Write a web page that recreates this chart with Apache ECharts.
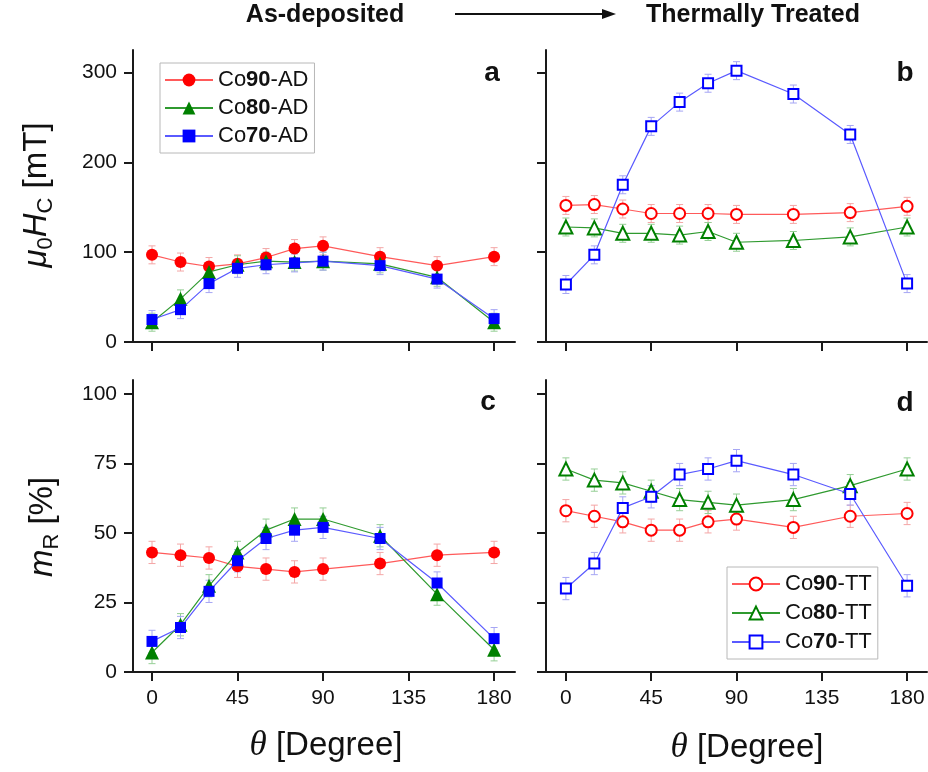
<!DOCTYPE html>
<html>
<head>
<meta charset="utf-8">
<script src="https://cdn.jsdelivr.net/npm/echarts@6/dist/echarts.min.js"></script>
<style>html,body{margin:0;padding:0;background:#fff}#c{width:928px;height:772px}</style>
</head>
<body>
<div id="c"></div>
<script>
// ---- data ----
const angles = [0, 15, 30, 45, 60, 75, 90, 120, 150, 180];
const xTicks = [0, 45, 90, 135, 180];
const hcTicks = [0, 100, 200, 300];
const mrTicks = [0, 25, 50, 75, 100];

const hcCo90AD = [97, 89, 84, 87, 94, 104, 107, 95, 85, 95];
const hcCo80AD = [22, 48, 78, 86, 90, 89, 90, 87, 72, 22];
const hcCo70AD = [25, 36, 65, 82, 86, 88, 90, 85, 70, 26];

const hcCo90TT = [152, 153, 148, 143, 143, 143, 142, 142, 144, 151];
const hcCo80TT = [128, 127, 121, 121, 119, 123, 111, 113, 117, 128];
const hcCo70TT = [64, 97, 175, 240, 267, 288, 302, 276, 231, 65];

const mrCo90AD = [43, 42, 41, 38, 37, 36, 37, 39, 42, 43];
const mrCo80AD = [7, 17, 31, 43, 51, 55, 55, 49, 28, 8];
const mrCo70AD = [11, 16, 29, 40, 48, 51, 52, 48, 32, 12];

const mrCo90TT = [58, 56, 54, 51, 51, 54, 55, 52, 56, 57];
const mrCo80TT = [73, 69, 68, 65, 62, 61, 60, 62, 67, 73];
const mrCo70TT = [30, 39, 59, 63, 71, 73, 76, 71, 64, 31];

const errHc = 10;   // error bar half-length, mT
const errMr = 4;    // error bar half-length, %

const namesAD = ['Co90-AD', 'Co80-AD', 'Co70-AD'];
const namesTT = ['Co90-TT', 'Co80-TT', 'Co70-TT'];

// ---- styles ----
const FONT = 'Liberation Sans, Arial, sans-serif';
const markerColors = ['#ff0000', '#008000', '#0000ff'];
const lineColors = ['#ff5a5a', '#2f9a2f', '#5a5aff'];
const errColors = ['#f4a6a6', '#96cf96', '#a6a6f4'];
const symbols = ['circle', 'triangle', 'rect'];
const symSolid = [12, 14, 11];
const symOpen = [11, 13, 10];

const chart = echarts.init(document.getElementById('c'), null, {renderer: 'canvas'});

function errRender(params, api) {
  const x = api.value(0), lo = api.value(1), hi = api.value(2);
  const p1 = api.coord([x, lo]), p2 = api.coord([x, hi]);
  const cw = 3.5;
  const style = {stroke: api.visual('color'), lineWidth: 1};
  return {type: 'group', children: [
    {type: 'line', shape: {x1: p1[0], y1: p1[1], x2: p2[0], y2: p2[1]}, style: style},
    {type: 'line', shape: {x1: p1[0] - cw, y1: p1[1], x2: p1[0] + cw, y2: p1[1]}, style: style},
    {type: 'line', shape: {x1: p2[0] - cw, y1: p2[1], x2: p2[0] + cw, y2: p2[1]}, style: style}
  ]};
}

const series = [];
function addPanel(idx, names, valuesList, err, open) {
  valuesList.forEach(function (vals, k) {
    series.push({
      name: 'err-' + names[k], type: 'custom', xAxisIndex: idx, yAxisIndex: idx,
      renderItem: errRender, z: 1 + k * 0.1, silent: true,
      itemStyle: {color: errColors[k]},
      data: angles.map(function (a, i) { return [a, vals[i] - err, vals[i] + err]; })
    });
  });
  valuesList.forEach(function (vals, k) {
    series.push({
      name: names[k], type: 'line', xAxisIndex: idx, yAxisIndex: idx,
      z: 3 + k, symbol: symbols[k], symbolSize: open ? symOpen[k] : symSolid[k],
      showAllSymbol: true, animation: false,
      lineStyle: {color: lineColors[k], width: 1.2},
      itemStyle: open ? {color: '#ffffff', borderColor: markerColors[k], borderWidth: 2}
                      : {color: markerColors[k], borderWidth: 0},
      data: angles.map(function (a, i) { return [a, vals[i]]; })
    });
  });
}
addPanel(0, namesAD, [hcCo90AD, hcCo80AD, hcCo70AD], errHc, false);
addPanel(1, namesTT, [hcCo90TT, hcCo80TT, hcCo70TT], errHc, true);
addPanel(2, namesAD, [mrCo90AD, mrCo80AD, mrCo70AD], errMr, false);
addPanel(3, namesTT, [mrCo90TT, mrCo80TT, mrCo70TT], errMr, true);

const grids = [
  {left: 133, top: 50, width: 382, height: 292},
  {left: 546, top: 50, width: 381, height: 292},
  {left: 133, top: 380, width: 382, height: 292},
  {left: 546, top: 380, width: 381, height: 292}
];
const axisLine = {show: true, onZero: false, lineStyle: {color: '#1a1a1a', width: 2}};
function xAxis(i, showLabels, min, max) {
  return {
    type: 'value', gridIndex: i, min: min, max: max,
    axisLine: axisLine,
    axisTick: {show: true, inside: false, length: 9, lineStyle: {color: '#1a1a1a', width: 2}, customValues: xTicks},
    axisLabel: {show: showLabels, margin: 16, fontSize: 21, color: '#111', fontFamily: FONT, customValues: xTicks},
    splitLine: {show: false}
  };
}
function yAxis(i, showLabels, max, ticks) {
  return {
    type: 'value', gridIndex: i, min: 0, max: max,
    axisLine: axisLine,
    axisTick: {show: true, inside: false, length: 9, lineStyle: {color: '#1a1a1a', width: 2}, customValues: ticks},
    axisLabel: {show: showLabels, margin: 16, fontSize: 21, color: '#111', fontFamily: FONT, customValues: ticks},
    splitLine: {show: false}
  };
}

const legendRich = {b: {fontWeight: 'bold', fontSize: 22, fontFamily: FONT, color: '#111'}};
function legendFmt(name) { return name.replace(/(\d+)/, '{b|$1}'); }
function legend(names, left, top, gap) {
  return {
    data: names, left: left, top: top, orient: 'vertical',
    borderColor: '#b8b8b8', borderWidth: 1, padding: [6, 6, 6, 4],
    itemGap: gap, itemWidth: 48, itemHeight: 16,
    textStyle: {fontSize: 22, fontFamily: FONT, color: '#111', rich: legendRich},
    formatter: legendFmt, selectedMode: false
  };
}

function panelLetter(t, x, y) {
  return {type: 'text', x: x, y: y, style: {text: t, font: 'bold 28px ' + FONT, fill: '#111', align: 'center', verticalAlign: 'middle'}};
}
const yTitleRich = {
  i: {fontStyle: 'italic', fontSize: 33, fontFamily: FONT, lineHeight: 40, fill: '#111'},
  n: {fontSize: 33, fontFamily: FONT, lineHeight: 40, fill: '#111'},
  s: {fontSize: 22, fontFamily: FONT, lineHeight: 26, verticalAlign: 'bottom', fill: '#111'}
};
const xTitleRich = {
  t: {fontStyle: 'italic', fontSize: 35, fontFamily: 'Liberation Serif, Times New Roman, serif', fill: '#111'},
  n: {fontSize: 33, fontFamily: FONT, fill: '#111'}
};

const option = {
  animation: false,
  backgroundColor: '#ffffff',
  grid: grids,
  xAxis: [xAxis(0, false, -10, 191), xAxis(1, false, -10.5, 190.5), xAxis(2, true, -10, 191), xAxis(3, true, -10.5, 190.5)],
  yAxis: [yAxis(0, true, 325, hcTicks), yAxis(1, false, 325, hcTicks), yAxis(2, true, 105, mrTicks), yAxis(3, false, 105, mrTicks)],
  legend: [legend(namesAD, 160, 63, 6), legend(namesTT, 727, 567, 7)],
  series: series,
  graphic: [
    {type: 'text', x: 325, y: 15, style: {text: 'As-deposited', font: 'bold 25px ' + FONT, fill: '#111', align: 'center', verticalAlign: 'middle'}},
    {type: 'line', shape: {x1: 455, y1: 14, x2: 604, y2: 14}, style: {stroke: '#111', lineWidth: 2}},
    {type: 'polygon', shape: {points: [[602, 9], [616, 14], [602, 19]]}, style: {fill: '#111'}},
    {type: 'text', x: 753, y: 15, style: {text: 'Thermally Treated', font: 'bold 25px ' + FONT, fill: '#111', align: 'center', verticalAlign: 'middle'}},
    panelLetter('a', 492, 73), panelLetter('b', 905, 73), panelLetter('c', 488, 402), panelLetter('d', 905, 403),
    {type: 'text', x: 37, y: 195, rotation: Math.PI / 2, style: {
      text: '{i|μ}{s|0}{i|H}{s|C}{n| [mT]}', align: 'center', verticalAlign: 'middle', fill: '#111', rich: yTitleRich}},
    {type: 'text', x: 43, y: 527, rotation: Math.PI / 2, style: {
      text: '{i|m}{s|R}{n| [%]}', align: 'center', verticalAlign: 'middle', fill: '#111', rich: yTitleRich}},
    {type: 'text', x: 326, y: 746, style: {
      text: '{t|θ}{n| [Degree]}', align: 'center', verticalAlign: 'middle', fill: '#111', rich: xTitleRich}},
    {type: 'text', x: 747, y: 748, style: {
      text: '{t|θ}{n| [Degree]}', align: 'center', verticalAlign: 'middle', fill: '#111', rich: xTitleRich}}
  ]
};
chart.setOption(option);
</script>
</body>
</html>
